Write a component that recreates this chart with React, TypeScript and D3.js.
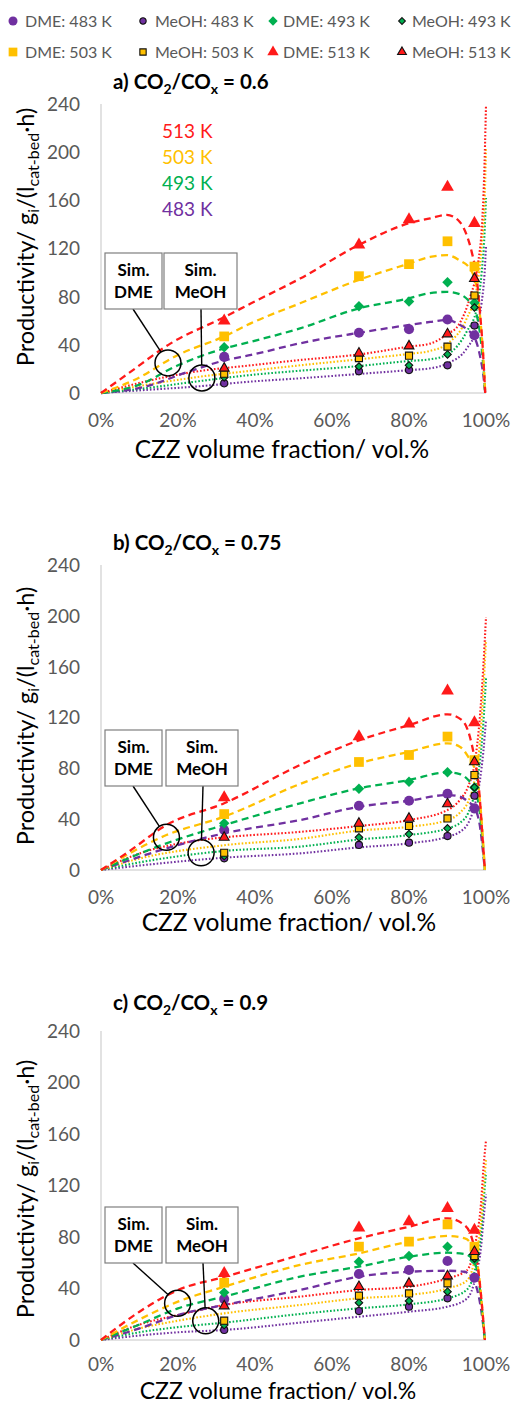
import React from 'react';
import * as d3 from 'd3';

// ---------- data ----------
const xTicks = [0, 0.2, 0.4, 0.6, 0.8, 1.0];
const yTicks = [0, 40, 80, 120, 160, 200, 240];
const temps = ['483 K', '493 K', '503 K', '513 K'];
const ratios = ['0.6', '0.75', '0.9'];
const panelLetters = ['a)', 'b)', 'c)'];
const xExp = [0.32, 0.67, 0.8, 0.9, 0.97];

// experimental points, index = temperature (483, 493, 503, 513)
const dmeExpA = [
  [30, 50, 53, 61, 48],
  [38, 72, 76, 92, 75],
  [47, 97, 107, 126, 105],
  [60, 123, 144, 171, 141],
];
const meohExpA = [
  [8, 18, 19, 23, 56],
  [13, 22, 23, 32, 71],
  [16, 29, 31, 38.5, 81],
  [20.5, 33, 39, 49, 95],
];
const dmeExpB = [
  [31.5, 50.6, 54.5, 60, 48.5],
  [36.7, 64, 69.5, 77, 65],
  [44, 85, 90.5, 105, 86.5],
  [57, 105, 115, 141, 116],
];
const meohExpB = [
  [9.2, 19.7, 21.5, 26.7, 58.5],
  [11, 25.7, 28.3, 32.8, 65],
  [13.6, 32.8, 34.6, 40.6, 74.7],
  [25.7, 36.7, 40.6, 52, 85],
];
const dmeExpC = [
  [31.8, 51.3, 54.4, 61.4, 48.4],
  [36.8, 60.8, 65.2, 72.5, 62],
  [44.5, 72.5, 76.4, 89.8, 72.5],
  [51.8, 87.2, 91.9, 102.3, 85.4],
];
const meohExpC = [
  [7.8, 22.5, 25.9, 32.4, 62.7],
  [11.6, 29, 30.3, 37.5, 63.4],
  [15, 34.4, 36.2, 44, 65.2],
  [26.4, 41.4, 44, 49.7, 68.6],
];

// simulated curves [x, productivity]
const dmeSimA = [
  [[0, 0], [0.114, 5.2], [0.227, 17.7], [0.32, 27], [0.39, 31.6], [0.517, 41.3], [0.67, 50], [0.8, 56.5], [0.855, 59], [0.898, 60.6], [0.93, 57], [0.954, 52], [0.972, 45], [0.985, 30], [0.993, 15], [0.998, 0]],
  [[0, 0], [0.097, 6.6], [0.2, 23], [0.32, 37], [0.39, 42.6], [0.517, 53.7], [0.67, 70.3], [0.8, 78.6], [0.855, 83], [0.898, 84], [0.932, 82], [0.954, 77], [0.97, 70], [0.982, 55], [0.991, 30], [0.998, 0]],
  [[0, 0], [0.088, 11], [0.2, 31.6], [0.32, 47], [0.39, 58], [0.517, 74.5], [0.67, 94], [0.8, 107.5], [0.855, 113], [0.898, 114.5], [0.932, 110], [0.958, 103.5], [0.976, 87], [0.987, 55], [0.993, 30], [0.998, 0]],
  [[0, 0], [0.07, 16], [0.18, 41], [0.32, 63], [0.39, 74.5], [0.517, 95], [0.67, 123], [0.8, 141], [0.855, 145], [0.898, 148], [0.932, 142], [0.95, 131], [0.963, 117], [0.976, 95], [0.984, 68], [0.991, 40], [0.998, 0]],
];
const meohSimA = [
  [[0, 0], [0.114, 2.5], [0.244, 5.3], [0.39, 9.5], [0.517, 12.2], [0.67, 15.8], [0.8, 19], [0.855, 20.5], [0.9, 24.6], [0.95, 37], [0.976, 54], [0.989, 76], [0.996, 98], [1.0, 122]],
  [[0, 0], [0.114, 3.9], [0.244, 9.4], [0.39, 15], [0.517, 18.5], [0.67, 22.4], [0.8, 26.6], [0.855, 28], [0.9, 32], [0.95, 51], [0.976, 70], [0.989, 101], [0.996, 131], [1.0, 162]],
  [[0, 0], [0.114, 6.6], [0.244, 13], [0.39, 18.5], [0.517, 23], [0.67, 28], [0.8, 32.5], [0.855, 35], [0.9, 41], [0.95, 62], [0.976, 87], [0.989, 123], [0.997, 165], [1.0, 203]],
  [[0, 0], [0.114, 9.4], [0.244, 17.7], [0.39, 23], [0.517, 27.4], [0.67, 32], [0.8, 38.5], [0.855, 41], [0.9, 49], [0.93, 57], [0.958, 79], [0.98, 109], [0.989, 137], [0.995, 178], [1.0, 239]],
];
const dmeSimB = [
  [[0, 0], [0.17, 17], [0.32, 28.9], [0.517, 39.3], [0.67, 49.8], [0.8, 54.5], [0.9, 59], [0.932, 57.7], [0.954, 53.7], [0.971, 48.5], [0.984, 35], [0.992, 15], [0.997, 0]],
  [[0, 0], [0.17, 21], [0.32, 35.4], [0.517, 52.5], [0.67, 64.3], [0.8, 70.8], [0.9, 76.9], [0.932, 75.5], [0.954, 70.8], [0.971, 64.3], [0.984, 45], [0.992, 20], [0.997, 0]],
  [[0, 0], [0.17, 27.5], [0.32, 42], [0.517, 67.7], [0.67, 84], [0.8, 93], [0.9, 99.7], [0.932, 97], [0.954, 89], [0.971, 78.7], [0.984, 55], [0.992, 25], [0.997, 0]],
  [[0, 0], [0.07, 14], [0.17, 35.4], [0.32, 52.5], [0.517, 82.6], [0.67, 102], [0.8, 114], [0.9, 122.5], [0.937, 118], [0.958, 105], [0.971, 86.5], [0.982, 63], [0.991, 26], [0.997, 0]],
];
const meohSimB = [
  [[0, 0], [0.1, 3.5], [0.32, 9.7], [0.517, 13.1], [0.67, 17.8], [0.8, 21], [0.9, 26.2], [0.932, 30], [0.954, 37], [0.97, 50], [0.984, 70], [0.993, 93], [1.0, 118]],
  [[0, 0], [0.1, 6], [0.32, 15], [0.517, 18.4], [0.67, 24], [0.8, 27.5], [0.9, 32.8], [0.932, 37], [0.954, 45], [0.97, 60], [0.984, 85], [0.993, 115], [1.0, 151]],
  [[0, 0], [0.1, 9], [0.32, 19.5], [0.517, 24.5], [0.67, 31], [0.8, 34], [0.9, 39.3], [0.932, 45], [0.954, 54], [0.97, 70], [0.984, 100], [0.993, 140], [1.0, 181]],
  [[0, 0], [0.1, 13], [0.26, 23.6], [0.32, 25.7], [0.517, 30], [0.67, 34.6], [0.8, 39.3], [0.9, 47.2], [0.932, 55], [0.954, 66], [0.97, 83], [0.984, 120], [0.993, 160], [1.0, 199]],
];
const dmeSimC = [
  [[0, 0], [0.1, 9], [0.2, 19.4], [0.32, 27.2], [0.517, 38.8], [0.67, 49.2], [0.8, 53], [0.9, 53.8], [0.945, 53], [0.96, 49], [0.978, 38], [0.99, 18], [0.997, 0]],
  [[0, 0], [0.1, 12], [0.2, 24.6], [0.32, 33.7], [0.517, 49.2], [0.67, 57], [0.8, 64.7], [0.9, 67.8], [0.945, 66.8], [0.967, 62], [0.982, 45], [0.99, 22], [0.997, 0]],
  [[0, 0], [0.1, 16], [0.2, 29.8], [0.32, 41.4], [0.517, 58.3], [0.67, 67.3], [0.8, 76.4], [0.9, 80.8], [0.945, 79], [0.967, 71], [0.982, 50], [0.99, 25], [0.997, 0]],
  [[0, 0], [0.1, 22], [0.2, 38.8], [0.32, 49], [0.517, 66], [0.67, 79], [0.8, 88], [0.9, 94.5], [0.945, 89], [0.967, 75], [0.98, 54], [0.989, 28.5], [0.997, 0]],
];
const meohSimC = [
  [[0, 0], [0.1, 3.5], [0.2, 6], [0.32, 7.8], [0.517, 13.5], [0.67, 18.1], [0.8, 22], [0.9, 25.9], [0.95, 32], [0.974, 50], [0.987, 72], [0.993, 92], [1.0, 113]],
  [[0, 0], [0.1, 6], [0.2, 10], [0.32, 13.5], [0.517, 20.2], [0.67, 24.6], [0.8, 27.7], [0.9, 32.4], [0.95, 39], [0.974, 58], [0.987, 82], [0.993, 105], [1.0, 130]],
  [[0, 0], [0.1, 9], [0.2, 15], [0.32, 20.7], [0.517, 27.2], [0.67, 32.4], [0.8, 35], [0.9, 40.1], [0.95, 46], [0.974, 67], [0.987, 92], [0.993, 115], [1.0, 140]],
  [[0, 0], [0.1, 12], [0.2, 19.4], [0.32, 27.2], [0.517, 33.7], [0.67, 38.8], [0.8, 41.4], [0.9, 47.9], [0.95, 54], [0.974, 77.7], [0.987, 106], [0.993, 132], [1.0, 155]],
];

// callout circles in data coordinates [x, productivity]
const simDmeCircle = [[0.174, 25], [0.17, 25.7], [0.199, 28.5]];
const simMeohCircle = [[0.262, 12.5], [0.26, 13.6], [0.272, 14.9]];

// ---------- styles / layout ----------
const FONT = 'Lato, "Open Sans", sans-serif';
const COLORS = ['#7030A0', '#00B050', '#FFC000', '#FF1A1A'];
const SHAPES = [d3.symbolCircle, d3.symbolDiamond2, d3.symbolSquare, d3.symbolTriangle];
const DME_SIZE = [80, 70, 95, 70];
const MEOH_SIZE = [40, 36, 50, 42];
const GRAY = '#595959';

const X0 = 101, X1 = 486;
const panels = [
  { y0: 393, y1: 104, titleY: 89, xTickY: 427, xTitleX: 282, xTitleY: 458, xTitleSize: 24.5, yTitleY: 237, box: 253,
    dmeExp: dmeExpA, meohExp: meohExpA, dmeSim: dmeSimA, meohSim: meohSimA },
  { y0: 870, y1: 565, titleY: 550, xTickY: 904, xTitleX: 289, xTitleY: 931, xTitleSize: 24.5, yTitleY: 716, box: 730,
    dmeExp: dmeExpB, meohExp: meohExpB, dmeSim: dmeSimB, meohSim: meohSimB },
  { y0: 1340, y1: 1031, titleY: 1010, xTickY: 1371, xTitleX: 278, xTitleY: 1399, xTitleSize: 23, yTitleY: 1189, box: 1207,
    dmeExp: dmeExpC, meohExp: meohExpC, dmeSim: dmeSimC, meohSim: meohSimC },
];

const legendCols = [13, 143, 273, 402];
const legendRows = [21, 52];

function Marker({ ti, meoh, x, y, legend }: any) {
  const sizes = meoh ? MEOH_SIZE : DME_SIZE;
  const s = legend ? sizes[ti] * 0.8 : sizes[ti];
  const d = d3.symbol().type(SHAPES[ti]).size(s)();
  return (
    <path
      d={d || ''}
      transform={`translate(${x},${y})`}
      fill={COLORS[ti]}
      stroke={meoh ? '#111' : 'none'}
      strokeWidth={meoh ? 1.1 : 0}
    />
  );
}

function Panel({ p, idx }: any) {
  const xs = d3.scaleLinear().domain([0, 1]).range([X0, X1]);
  const ys = d3.scaleLinear().domain([0, 240]).range([p.y0, p.y1]);
  const line = d3.line<number[]>().x(d => xs(d[0])).y(d => ys(d[1])).curve(d3.curveMonotoneX);

  const dmeC = simDmeCircle[idx];
  const meC = simMeohCircle[idx];
  const R = 13;
  const boxTop = p.box, boxH = 56;
  const dmeBox = { x: 105, w: 57 };
  const meBox = { x: 164 + (idx === 0 ? 0 : 2), w: idx === 0 ? 73 : 72 };
  const leader = (bx: number, by: number, c: number[]) => {
    const cx = xs(c[0]), cy = ys(c[1]);
    const dx = bx - cx, dy = by - cy, L = Math.hypot(dx, dy);
    return { x1: bx, y1: by, x2: cx + (dx / L) * R, y2: cy + (dy / L) * R, cx, cy };
  };
  const l1 = leader(dmeBox.x + 28, boxTop + boxH, dmeC);
  const l2 = leader(meBox.x + 37, boxTop + boxH, meC);

  return (
    <g>
      {/* title */}
      <text x={113} y={p.titleY} fontFamily={FONT} fontWeight={700} fontSize={20.5} fill="#000">
        {panelLetters[idx]} CO<tspan fontSize={14} dy={5}>2</tspan>
        <tspan dy={-5}>/CO</tspan><tspan fontSize={14} dy={5}>x</tspan>
        <tspan dy={-5}> = {ratios[idx]}</tspan>
      </text>

      {/* axes */}
      <line x1={X0} x2={X0} y1={p.y1} y2={p.y0} stroke="#D9D9D9" strokeWidth={1.5} />
      <line x1={X0} x2={X1} y1={p.y0} y2={p.y0} stroke="#D9D9D9" strokeWidth={1.5} />
      {yTicks.map(t => (
        <text key={t} x={80} y={ys(t)} dy="0.36em" textAnchor="end" fontFamily={FONT} fontSize={19} fill={GRAY}>{t}</text>
      ))}
      {xTicks.map(t => (
        <text key={t} x={xs(t)} y={p.xTickY} textAnchor="middle" fontFamily={FONT} fontSize={19} fill={GRAY}>{d3.format('.0%')(t)}</text>
      ))}
      <text x={p.xTitleX} y={p.xTitleY} textAnchor="middle" fontFamily={FONT} fontSize={p.xTitleSize} fill="#000">CZZ volume fraction/ vol.%</text>
      <text transform={`translate(34,${p.yTitleY}) rotate(-90)`} textAnchor="middle" fontFamily={FONT} fontSize={23.5} fill="#000">
        Productivity/ g<tspan fontSize={16} dy={5}>i</tspan><tspan dy={-5}>/(l</tspan><tspan fontSize={16} dy={5}>cat-bed</tspan><tspan dy={-5}>·h)</tspan>
      </text>

      {/* simulation curves */}
      {p.meohSim.map((s: number[][], ti: number) => (
        <path key={'ms' + ti} d={line(s) || ''} fill="none" stroke={COLORS[ti]} strokeWidth={2.1} strokeDasharray="1.6 1.9" />
      ))}
      {p.dmeSim.map((s: number[][], ti: number) => (
        <path key={'ds' + ti} d={line(s) || ''} fill="none" stroke={COLORS[ti]} strokeWidth={2.3} strokeDasharray="7 4.5" />
      ))}

      {/* experimental markers */}
      {temps.map((_, ti) => (
        <g key={'m' + ti}>
          {p.dmeExp[ti].map((v: number, k: number) => (
            <Marker key={'d' + k} ti={ti} meoh={false} x={xs(xExp[k])} y={ys(v)} />
          ))}
          {p.meohExp[ti].map((v: number, k: number) => (
            <Marker key={'e' + k} ti={ti} meoh={true} x={xs(xExp[k])} y={ys(v)} />
          ))}
        </g>
      ))}

      {/* temperature labels (panel a) */}
      {idx === 0 && [3, 2, 1, 0].map((ti, k) => (
        <text key={'t' + ti} x={162} y={138 + k * 26} fontFamily={FONT} fontSize={19} fill={COLORS[ti]}>{temps[ti]}</text>
      ))}

      {/* callouts */}
      <line x1={l1.x1} y1={l1.y1} x2={l1.x2} y2={l1.y2} stroke="#000" strokeWidth={1.4} />
      <line x1={l2.x1} y1={l2.y1} x2={l2.x2} y2={l2.y2} stroke="#000" strokeWidth={1.4} />
      <circle cx={l1.cx} cy={l1.cy} r={R} fill="none" stroke="#000" strokeWidth={1.5} />
      <circle cx={l2.cx} cy={l2.cy} r={R} fill="none" stroke="#000" strokeWidth={1.5} />
      <rect x={dmeBox.x} y={boxTop} width={dmeBox.w} height={boxH} fill="#fff" stroke="#7F7F7F" strokeWidth={1.2} />
      <rect x={meBox.x} y={boxTop} width={meBox.w} height={boxH} fill="#fff" stroke="#7F7F7F" strokeWidth={1.2} />
      <text x={dmeBox.x + dmeBox.w / 2} y={boxTop + 23} textAnchor="middle" fontFamily={FONT} fontWeight={700} fontSize={17} fill="#000">Sim.</text>
      <text x={dmeBox.x + dmeBox.w / 2} y={boxTop + 45} textAnchor="middle" fontFamily={FONT} fontWeight={700} fontSize={17} fill="#000">DME</text>
      <text x={meBox.x + meBox.w / 2} y={boxTop + 23} textAnchor="middle" fontFamily={FONT} fontWeight={700} fontSize={17} fill="#000">Sim.</text>
      <text x={meBox.x + meBox.w / 2} y={boxTop + 45} textAnchor="middle" fontFamily={FONT} fontWeight={700} fontSize={17} fill="#000">MeOH</text>
    </g>
  );
}

export default function App() {
  const legendItems: { ti: number; meoh: boolean }[] = [];
  temps.forEach((_, ti) => {
    legendItems.push({ ti, meoh: false });
    legendItems.push({ ti, meoh: true });
  });
  return (
    <svg width={515} height={1405} viewBox="0 0 515 1405" style={{ position: 'absolute', left: 0, top: 0, background: '#fff' }}>
      <rect width={515} height={1405} fill="#fff" />
      {legendItems.map((it, i) => {
        const col = i % 4, row = Math.floor(i / 4);
        const mx = legendCols[col], my = legendRows[row];
        return (
          <g key={i}>
            <Marker ti={it.ti} meoh={it.meoh} x={mx} y={my} legend />
            <text x={mx + (col < 2 ? 12 : 10)} y={my + 6} fontFamily={FONT} fontSize={16} fill={GRAY}>
              {(it.meoh ? 'MeOH: ' : 'DME: ') + temps[it.ti]}
            </text>
          </g>
        );
      })}
      {panels.map((p, i) => <Panel key={i} p={p} idx={i} />)}
    </svg>
  );
}
